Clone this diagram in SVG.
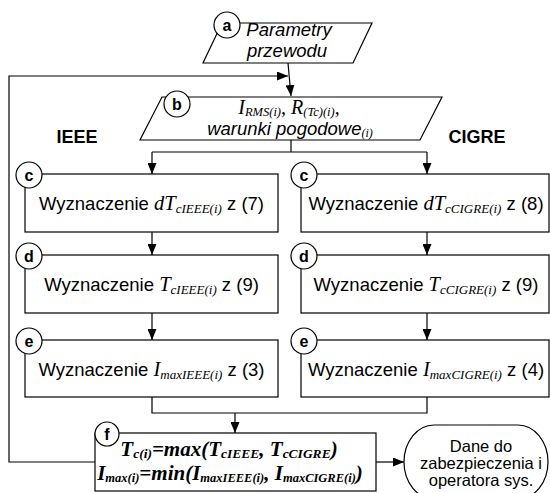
<svg xmlns="http://www.w3.org/2000/svg" width="550" height="493" viewBox="0 0 550 493">
<style>
.shape{fill:#fff;stroke:#000;stroke-width:1.2}
.conn{fill:none;stroke:#000;stroke-width:1.2}
.lbl{font-family:"Liberation Sans",Arial,sans-serif;font-weight:bold;font-size:16px;text-anchor:middle}
.ar{font-family:"Liberation Sans",Arial,sans-serif;font-size:18.5px}
.tm{font-family:"Liberation Serif","Times New Roman",serif;font-style:italic}
.hd{font-family:"Liberation Sans",Arial,sans-serif;font-weight:bold;font-size:18px}
.tx{text-anchor:middle}
.out{font-family:"Liberation Sans",Arial,sans-serif;font-size:16.5px;text-anchor:middle}
</style>
<defs>
<marker id="ah" markerUnits="userSpaceOnUse" markerWidth="12" markerHeight="9" refX="11" refY="4.5" orient="auto">
<path d="M0,0 L11,4.5 L0,9 z" fill="#000"/>
</marker>
</defs>
<rect width="550" height="493" fill="#fff"/>
<g id="connectors">
<path class="conn" d="M288,63 L291,96" marker-end="url(#ah)"/>
<path class="conn" d="M95,462 H9 V76 H288" marker-end="url(#ah)"/>
<path class="conn" d="M291,140 V152 M152,152 H427"/>
<path class="conn" d="M152,152 V174" marker-end="url(#ah)"/>
<path class="conn" d="M427,152 V174" marker-end="url(#ah)"/>
<path class="conn" d="M152,232 V255" marker-end="url(#ah)"/>
<path class="conn" d="M427,232 V255" marker-end="url(#ah)"/>
<path class="conn" d="M152,313 V340" marker-end="url(#ah)"/>
<path class="conn" d="M427,313 V340" marker-end="url(#ah)"/>
<path class="conn" d="M152,397 V413 H427 V397"/>
<path class="conn" d="M235,413 V433" marker-end="url(#ah)"/>
<path class="conn" d="M376,462 H404" marker-end="url(#ah)"/>
</g>
<g id="labels">
<text class="hd" x="77" y="143" text-anchor="middle">IEEE</text>
<text class="hd" x="477" y="143" text-anchor="middle">CIGRE</text>
</g>
<g id="node-a">
<polygon class="shape" points="222,23 372,23 353,63 203,63"/>
<text class="ar tx" x="289" y="36" font-style="italic">Parametry</text>
<text class="ar tx" x="287" y="57" font-style="italic">przewodu</text>
<circle class="shape" cx="227" cy="25" r="13"/>
<text class="lbl" x="227" y="31">a</text>
</g>
<g id="node-b">
<polygon class="shape" points="162,97 442,97 420,140 140,140"/>
<text class="tm tx" x="289" y="114" font-size="20">I<tspan font-size="12.5" dy="2">RMS(i)</tspan><tspan dy="-2">, R</tspan><tspan font-size="12.5" dy="2">(Tc)(i)</tspan><tspan dy="-2">,</tspan></text>
<text class="tx" x="290" y="135"><tspan class="ar" font-style="italic">warunki pogodowe</tspan><tspan class="tm" font-size="12" dy="2">(i)</tspan></text>
<circle class="shape" cx="177" cy="104" r="13"/>
<text class="lbl" x="177" y="110">b</text>
</g>
<g id="node-c-ieee">
<rect class="shape" x="25" y="174" width="253" height="58"/>
<text class="ar tx" x="151.5" y="210">Wyznaczenie <tspan class="tm" font-size="20.5">dT</tspan><tspan class="tm" font-size="13" dy="3">cIEEE(i)</tspan><tspan dy="-3"> z (7)</tspan></text>
<circle class="shape" cx="29" cy="175" r="13"/>
<text class="lbl" x="29" y="181">c</text>
</g>
<g id="node-c-cigre">
<rect class="shape" x="301" y="174" width="248" height="58"/>
<text class="ar tx" x="426" y="210">Wyznaczenie <tspan class="tm" font-size="20.5">dT</tspan><tspan class="tm" font-size="13" dy="3">cCIGRE(i)</tspan><tspan dy="-3"> z (8)</tspan></text>
<circle class="shape" cx="304" cy="175" r="13"/>
<text class="lbl" x="304" y="181">c</text>
</g>
<g id="node-d-ieee">
<rect class="shape" x="25" y="255" width="253" height="58"/>
<text class="ar tx" x="151.5" y="291">Wyznaczenie <tspan class="tm" font-size="20.5">T</tspan><tspan class="tm" font-size="13" dy="3">cIEEE(i)</tspan><tspan dy="-3"> z (9)</tspan></text>
<circle class="shape" cx="29" cy="256" r="13"/>
<text class="lbl" x="29" y="262">d</text>
</g>
<g id="node-d-cigre">
<rect class="shape" x="301" y="255" width="248" height="58"/>
<text class="ar tx" x="426" y="291">Wyznaczenie <tspan class="tm" font-size="20.5">T</tspan><tspan class="tm" font-size="13" dy="3">cCIGRE(i)</tspan><tspan dy="-3"> z (9)</tspan></text>
<circle class="shape" cx="304" cy="256" r="13"/>
<text class="lbl" x="304" y="262">d</text>
</g>
<g id="node-e-ieee">
<rect class="shape" x="25" y="340" width="253" height="57"/>
<text class="ar tx" x="151.5" y="376">Wyznaczenie <tspan class="tm" font-size="20.5">I</tspan><tspan class="tm" font-size="13" dy="3">maxIEEE(i)</tspan><tspan dy="-3"> z (3)</tspan></text>
<circle class="shape" cx="29" cy="341" r="13"/>
<text class="lbl" x="29" y="347">e</text>
</g>
<g id="node-e-cigre">
<rect class="shape" x="301" y="340" width="248" height="57"/>
<text class="ar tx" x="426" y="376">Wyznaczenie <tspan class="tm" font-size="20.5">I</tspan><tspan class="tm" font-size="13" dy="3">maxCIGRE(i)</tspan><tspan dy="-3"> z (4)</tspan></text>
<circle class="shape" cx="304" cy="341" r="13"/>
<text class="lbl" x="304" y="347">e</text>
</g>
<g id="node-f">
<rect class="shape" x="95" y="433" width="281" height="58"/>
<text class="tm tx" x="229" y="456" font-size="21" font-weight="bold">T<tspan font-size="13.5" dy="2">c(i)</tspan><tspan dy="-2">=max(T</tspan><tspan font-size="13.5" dy="2">cIEEE</tspan><tspan dy="-2">, T</tspan><tspan font-size="13.5" dy="2">cCIGRE</tspan><tspan dy="-2">)</tspan></text>
<text class="tm tx" x="230" y="480" font-size="21" font-weight="bold">I<tspan font-size="12.5" dy="2">max(i)</tspan><tspan dy="-2">=min(I</tspan><tspan font-size="12.5" dy="2">maxIEEE(i)</tspan><tspan dy="-2">, I</tspan><tspan font-size="12.5" dy="2">maxCIGRE(i)</tspan><tspan dy="-2">)</tspan></text>
<circle class="shape" cx="107" cy="434" r="12"/>
<text class="lbl" x="107" y="440">f</text>
</g>
<g id="node-out">
<rect class="shape" x="404" y="425" width="144" height="74" rx="30" ry="37"/>
<text class="out" x="481" y="452">Dane do</text>
<text class="out" x="481" y="469">zabezpieczenia i</text>
<text class="out" x="481" y="486">operatora sys.</text>
</g>
</svg>
